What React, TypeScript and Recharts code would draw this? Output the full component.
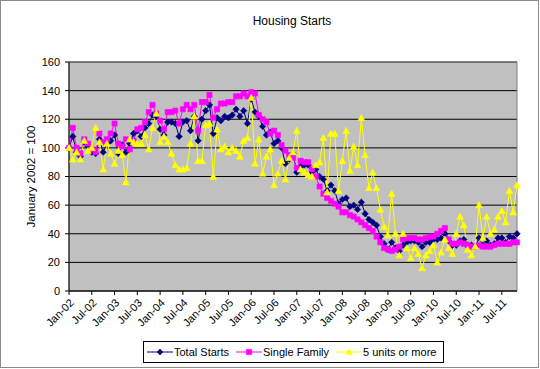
import React from 'react';
import { LineChart, Line, XAxis, YAxis, CartesianGrid, ReferenceArea, Label } from 'recharts';

const MONTH_NAMES = ['Jan', 'Feb', 'Mar', 'Apr', 'May', 'Jun', 'Jul', 'Aug', 'Sep', 'Oct', 'Nov', 'Dec'];
const YEARS = ['02', '03', '04', '05', '06', '07', '08', '09', '10', '11'];
const LAST_MONTH_COUNT = 119; // Jan-02 .. Nov-11
const months: string[] = YEARS.flatMap((y) => MONTH_NAMES.map((m) => `${m}-${y}`)).slice(0, LAST_MONTH_COUNT);

const totalStarts = [
  100, 108, 97, 94, 104, 101, 97, 96, 106, 97, 103, 105,
  109, 96, 102, 97, 103, 110, 112, 108, 114, 117, 123, 122,
  113, 109, 118, 118, 117, 108, 118, 119, 112, 122, 105, 120,
  126, 130, 110, 121, 119, 122, 121, 123, 127, 122, 126, 117,
  134, 125, 122, 115, 109, 111, 103, 105, 100, 89, 92, 96,
  83, 87, 88, 88, 83, 85, 80, 78, 70, 74, 70, 61,
  64, 65, 59, 60, 57, 62, 54, 50, 48, 46, 38, 33,
  29, 34, 30, 28, 32, 34, 35, 35, 34, 31, 34, 34,
  36, 36, 37, 40, 35, 32, 32, 35, 36, 32, 32, 31,
  37, 32, 35, 32, 33, 37, 37, 34, 38, 37, 40,
];

const singleFamily = [
  100, 114, 100, 96, 106, 103, 99, 97, 110, 104, 106, 110,
  117, 103, 101, 106, 99, 105, 113, 114, 118, 125, 130, 124,
  119, 113, 125, 125, 126, 117, 127, 130, 127, 130, 112, 132,
  132, 137, 121, 127, 131, 131, 132, 132, 136, 136, 138, 136,
  139, 138, 123, 120, 118, 110, 112, 109, 102, 98, 95, 93,
  86, 91, 90, 90, 85, 80, 73, 68, 65, 63, 61, 59,
  55, 55, 53, 52, 50, 48, 46, 44, 42, 38, 34, 30,
  29, 28, 29, 31, 36, 37, 37, 37, 36, 36, 37, 38,
  38, 40, 42, 44, 36, 33, 33, 34, 33, 32, 31, 31,
  32, 31, 31, 31, 32, 33, 33, 33, 33, 34, 34,
];

const fiveUnitsOrMore = [
  100, 92, 97, 92, 105, 98, 100, 114, 104, 85, 103, 96,
  89, 98, 95, 76, 106, 104, 103, 103, 109, 99, 114, 124,
  104, 108, 104, 96, 88, 85, 85, 86, 103, 122, 91, 91,
  116, 117, 80, 113, 99, 101, 97, 100, 98, 94, 105, 107,
  135, 89, 106, 82, 94, 99, 74, 82, 91, 78, 93, 97,
  112, 85, 83, 81, 80, 88, 90, 107, 69, 110, 110, 70,
  91, 112, 84, 101, 88, 121, 95, 72, 83, 72, 57, 45,
  39, 68, 40, 25, 40, 30, 23, 30, 26, 16, 25, 28,
  32, 20, 27, 36, 30, 26, 40, 52, 46, 29, 25, 31,
  60, 37, 52, 40, 43, 52, 56, 48, 70, 55, 74,
];

const yTicks = [0, 20, 40, 60, 80, 100, 120, 140, 160];

const SERIES_NAMES = ['Total Starts', 'Single Family', '5 units or more'];
const COLORS = ['#000080', '#FF00FF', '#FFFF00'];

const data = months.map((m, i) => ({
  month: m,
  total: totalStarts[i],
  single: singleFamily[i],
  multi: fiveUnitsOrMore[i],
}));

const FONT = '"Liberation Sans", Arial, sans-serif';

const diamondPath = (cx: number, cy: number, r: number) =>
  `M${cx},${cy - r}L${cx + r},${cy}L${cx},${cy + r}L${cx - r},${cy}Z`;
const squarePath = (cx: number, cy: number, r: number) =>
  `M${cx - r},${cy - r}L${cx + r},${cy - r}L${cx + r},${cy + r}L${cx - r},${cy + r}Z`;
const trianglePath = (cx: number, cy: number, r: number) =>
  `M${cx},${cy - r}L${cx + r},${cy + r * 0.8}L${cx - r},${cy + r * 0.8}Z`;

const makeDot = (shape: (cx: number, cy: number, r: number) => string, r: number, color: string, prefix: string) =>
  (props: any) => {
    const { cx, cy, index } = props;
    if (cx == null || cy == null) return <g key={`${prefix}${index}`} />;
    return <path key={`${prefix}${index}`} d={shape(cx, cy, r)} fill={color} stroke={color} strokeWidth={0.6} />;
  };

const DiamondDot = makeDot(diamondPath, 3.2, COLORS[0], 'd');
const SquareDot = makeDot(squarePath, 2.6, COLORS[1], 's');
const TriangleDot = makeDot(trianglePath, 3.4, COLORS[2], 't');

const LegendIcon = ({ shape, r, color }: { shape: (cx: number, cy: number, r: number) => string; r: number; color: string }) => (
  <svg width={26} height={10} style={{ display: 'block' }}>
    <line x1={0} y1={5} x2={26} y2={5} stroke={color} strokeWidth={1} />
    <path d={shape(13, 5, r)} fill={color} stroke={color} strokeWidth={0.6} />
  </svg>
);

export default function App() {
  return (
    <div style={{ position: 'absolute', left: 0, top: 0, width: 540, height: 369, background: '#fff', overflow: 'hidden' }}>
      <div
        style={{
          position: 'absolute', left: 0, top: 0, width: 539, height: 368,
          border: '1px solid #8a8a8a', boxSizing: 'border-box',
        }}
      />
      <div
        style={{
          position: 'absolute', left: 192, top: 14, width: 200, textAlign: 'center',
          fontFamily: FONT, fontSize: 12, lineHeight: '14px', color: '#000',
        }}
      >
        Housing Starts
      </div>
      <div style={{ position: 'absolute', left: 0, top: 0 }}>
        <LineChart width={540} height={369} data={data} margin={{ top: 62, right: 23, bottom: 18, left: 0 }}>
          <CartesianGrid vertical={false} stroke="#000" fill="#C0C0C0" strokeWidth={1} />
          <ReferenceArea y1={0} y2={160} fill="none" fillOpacity={0} stroke="#808080" strokeWidth={1} ifOverflow="visible" />
          <XAxis
            dataKey="month"
            interval={5}
            height={60}
            tickSize={4}
            tickMargin={3}
            axisLine={{ stroke: '#000' }}
            tickLine={{ stroke: '#000' }}
            tick={{ angle: -45, textAnchor: 'end', fontSize: 11, fontFamily: FONT, fill: '#000' }}
          />
          <YAxis
            width={69}
            domain={[0, 160]}
            ticks={yTicks}
            tickSize={4}
            tickMargin={5}
            axisLine={{ stroke: '#000' }}
            tickLine={{ stroke: '#000' }}
            tick={{ fontSize: 11, fontFamily: FONT, fill: '#000' }}
          >
            <Label
              value="January 2002 = 100"
              angle={-90}
              position="center"
              dx={-4}
              style={{ fontSize: 11.5, fontFamily: FONT, fill: '#000' }}
            />
          </YAxis>
          <Line type="linear" dataKey="total" name={SERIES_NAMES[0]} stroke={COLORS[0]} strokeWidth={1} dot={DiamondDot} activeDot={false} isAnimationActive={false} />
          <Line type="linear" dataKey="single" name={SERIES_NAMES[1]} stroke={COLORS[1]} strokeWidth={1} dot={SquareDot} activeDot={false} isAnimationActive={false} />
          <Line type="linear" dataKey="multi" name={SERIES_NAMES[2]} stroke={COLORS[2]} strokeWidth={1} dot={TriangleDot} activeDot={false} isAnimationActive={false} />
        </LineChart>
      </div>
      <div
        style={{
          position: 'absolute', left: 143, top: 341, width: 301, height: 22,
          border: '1px solid #000', boxSizing: 'border-box', background: '#fff',
          display: 'flex', alignItems: 'center', paddingLeft: 3,
          fontFamily: FONT, fontSize: 11, color: '#000', whiteSpace: 'nowrap',
        }}
      >
        <LegendIcon shape={diamondPath} r={3} color={COLORS[0]} />
        <span style={{ marginLeft: 1, marginRight: 7 }}>{SERIES_NAMES[0]}</span>
        <LegendIcon shape={squarePath} r={2.6} color={COLORS[1]} />
        <span style={{ marginLeft: 1, marginRight: 7 }}>{SERIES_NAMES[1]}</span>
        <LegendIcon shape={trianglePath} r={3.2} color={COLORS[2]} />
        <span style={{ marginLeft: 1 }}>{SERIES_NAMES[2]}</span>
      </div>
    </div>
  );
}
